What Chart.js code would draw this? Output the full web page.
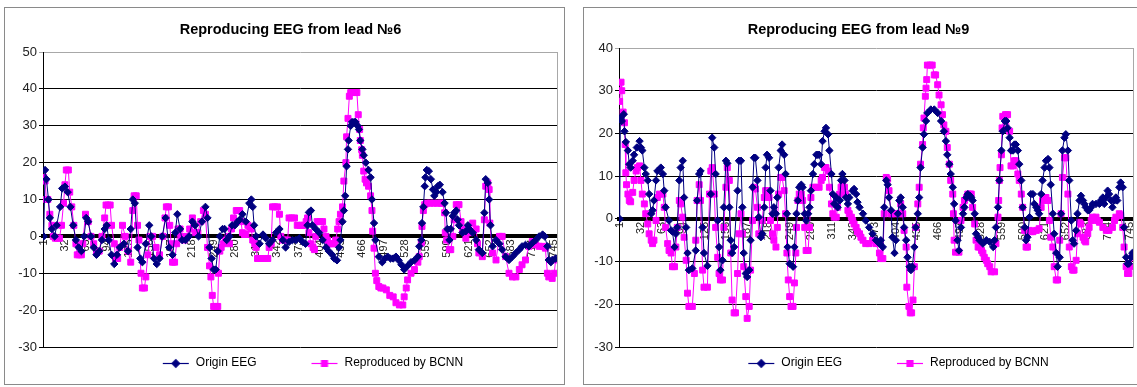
<!DOCTYPE html>
<html>
<head>
<meta charset="utf-8">
<script src="https://cdn.jsdelivr.net/npm/chart.js@4.4.1/dist/chart.umd.min.js"></script>
<style>
  html, body { margin: 0; padding: 0; background: #fff; overflow: hidden; width: 1137px; height: 387px; }
  .box { position: absolute; top: 7px; height: 378px; border: 1px solid #8a8a8a; box-sizing: border-box; background: #fff; }
  #box6 { left: 4px; width: 561px; }
  #box9 { left: 583px; width: 558px; }
  canvas { display: block; }
</style>
</head>
<body>
<div class="box" id="box6"><canvas id="lead6" width="559" height="376"></canvas></div>
<div class="box" id="box9"><canvas id="lead9" width="556" height="376"></canvas></div>
<script>
// Sample numbers printed along the category axis (every 31st sample)
const sampleTicks = [1, 32, 63, 94, 125, 156, 187, 218, 249, 280, 311, 342, 373, 404, 435, 466, 497, 528, 559, 590, 621, 652, 683, 714, 745];

// Lead 6: [sample, amplitude]
const lead6Origin = [
  [1,0],[3,18],[5,15.5],[8,10],[10,5],[13,2],[17,0],[20,3],[25,8],[28,13],[32,13.5],[36,12],[40,8],[44,3],[48,-1],[52,-3],[56,-4],[60,0],[63,5],[66,4],[70,0],[74,-3],[78,-5],[82,-4],[86,-1],[90,2],[93,3],[96,-1],[100,-5],[104,-7.5],[108,-5],[112,-3],[118,-2],[124,-4],[128,2],[131,10],[134,9],[138,-3],[142,-6],[145,-7],[150,-2],[155,3],[158,0],[162,-6],[166,-7.5],[170,-6],[174,0],[179,5],[184,-3],[189,-5],[193,1],[196,6],[200,2],[203,-1],[208,-1],[213,0],[218,4],[222,3],[227,0],[232,4],[237,8],[240,5],[243,-3],[246,-6],[249,-9],[252,-9],[255,-4],[258,0],[262,2],[265,2],[268,-1],[272,0],[276,3],[280,3],[284,4],[287,4.5],[291,6],[296,4],[301,9],[304,10],[306,8],[308,3],[311,0],[316,-2],[321,0.5],[325,-0.5],[330,-2],[335,-1],[340,1],[345,2],[350,-1],[354,-3],[359,-1.5],[364,-1],[369,-1],[374,-0.5],[379,-1.5],[383,-2],[386,3],[388,6.5],[391,7],[393,3],[398,2],[403,1],[408,-1],[413,-3],[417,-4],[422,-5],[425,-6],[429,-6.5],[432,-3],[434,-1],[437,4],[439,7],[441,11],[443,19],[445,23.6],[446,26],[449,30],[451,31],[454,31],[456,31],[459,30],[461,29],[463,26],[466,23.6],[468,22],[471,20],[475,18],[478,16],[480,10],[483,3.6],[485,-1],[490,-5.5],[495,-7],[499,-6],[503,-5.5],[507,-6],[511,-6],[515,-5.5],[519,-6.5],[523,-7.7],[527,-9],[532,-8],[537,-7],[542,-6.5],[547,-5.5],[549,-2.7],[552,-1],[553,3.6],[555,8],[557,13.6],[558,16],[560,18],[563,17.7],[566,15.5],[569,12.7],[571,11],[574,12],[576,13.6],[579,14],[583,12],[586,9],[588,6.4],[590,2],[593,-1],[595,2],[598,5.5],[600,6.4],[603,7],[605,4.5],[607,3],[612,1],[617,1.4],[620,3],[622,2],[627,1],[632,-1],[636,-3.6],[641,-4.5],[644,6.4],[646,15.5],[649,14.5],[651,10],[653,3],[656,-2.7],[661,-1],[666,-2],[670,-3.6],[675,-5.5],[680,-6.4],[685,-5.5],[690,-4.5],[695,-3.6],[699,-2.7],[704,-2.3],[709,-2.7],[714,-1.8],[719,-1],[724,0],[729,0.5],[732,0],[736,-2.7],[738,-6.4],[741,-7],[743,-6.4],[748,-6]
];
const lead6Reproduced = [
  [1,16],[3,15],[5,10],[7,10],[10,6],[13,3],[15,0],[18,-0.5],[21,-0.5],[24,-0.5],[27,3],[30,9],[32,14],[34,18],[37,18],[39,12],[42,8],[45,3],[48,-2],[50,-5],[53,-5],[56,-5],[58,-2],[62,6],[66,4],[70,0],[74,-2],[78,-4],[82,-4],[86,0],[90,5],[92,8.5],[95,8.5],[98,8.5],[100,3],[104,-2],[106,-6],[109,-6],[112,-3],[116,3],[120,0],[124,-4],[128,-7],[131,7],[133,11],[136,11],[138,3],[140,-1],[143,-10],[145,-14],[148,-14],[150,-11],[153,-5],[156,0],[160,0],[165,-3],[170,-5],[175,0],[178,5],[180,8],[183,8],[185,3],[187,-2],[189,-7],[192,-7],[195,-2],[197,2],[200,2],[202,0],[206,-1],[210,0],[214,2],[218,5],[222,1],[226,1],[230,4],[234,7],[237,6],[240,-3],[243,-8],[245,-11],[247,-16],[249,-19],[252,-19],[255,-19],[256,-10],[258,-4],[260,-3],[263,-2],[266,-1],[270,0],[272,-2],[275,2],[278,5],[282,7],[285,7],[287,7],[289,4],[291,1],[294,0.5],[296,0.5],[299,3],[302,2.5],[304,2],[306,-1],[309,-2],[311,-3],[313,-6],[318,-6],[323,-6],[328,-6],[330,-3],[333,-2],[335,8],[338,8],[342,8],[345,6],[347,0],[350,-1],[353,-1],[357,-1],[359,5],[363,5],[367,5],[371,3],[375,3],[378,3],[381,3],[384,4],[386,5],[388,1],[391,-2],[394,-3],[396,-3.6],[398,0],[400,4],[404,4],[408,4],[410,2],[413,0],[415,-1],[417,-2],[421,-2],[425,-2],[427,-1],[430,2],[432,4],[434,6],[437,8],[439,15],[442,20],[443,27],[445,32],[447,38],[449,39],[452,39],[455,39],[458,39],[460,33],[462,29],[463,26],[465,23.5],[466,22],[468,17.7],[470,15.5],[472,14.5],[475,13.6],[478,11],[480,7],[481,1.4],[483,-3.2],[485,-10],[487,-12],[490,-13.6],[493,-14],[496,-14],[501,-14.5],[506,-16],[511,-16.4],[515,-18],[520,-18.6],[525,-18.6],[527,-16.4],[530,-14],[532,-11.8],[537,-10],[542,-9],[547,-7],[549,-5.5],[552,-1.8],[553,2.7],[555,7],[557,8.6],[560,9],[565,9],[570,9],[575,9],[580,9],[583,9],[586,6.4],[587,1],[589,-1],[593,-3.6],[595,-3.6],[598,0],[600,4.5],[603,8.6],[607,8.6],[610,4],[612,2],[617,-0.5],[622,1],[627,3.6],[632,2],[634,-2],[636,-4.5],[641,-5.5],[644,4.5],[646,13.6],[649,14.5],[651,12.7],[652,3.6],[656,-4.5],[661,-6.4],[666,0],[670,0],[675,-5.5],[680,-10],[685,-11],[690,-11],[695,-9],[699,-7.7],[704,-6.4],[709,-2.7],[714,-1.4],[719,-2.3],[724,-2.7],[729,-2.7],[733,-3.2],[736,-10],[738,-11],[743,-11.4],[746,-10],[748,-6.4]
];

// Lead 9: [sample, amplitude]
const lead9Origin = [
  [1,0],[2,23.6],[4,22.9],[7,24.5],[8,20.5],[10,18],[13,16],[15,12.8],[17,12],[20,13.6],[22,15],[26,16.7],[30,18.2],[32,16.7],[34,16],[37,12],[39,10.5],[42,9],[44,5.8],[47,1.2],[49,2],[51,4.3],[54,9],[56,11.2],[61,12],[64,10.5],[66,6.6],[68,2.7],[73,-0.4],[76,-2.7],[78,-3],[81,-6.6],[83,-3.5],[85,-2],[88,9],[90,12],[93,13.6],[95,5],[98,-2],[100,-8],[102,-12],[107,-11.6],[112,-7.4],[114,4.3],[117,10.5],[119,11.2],[122,-2],[124,-8],[129,-11],[134,5.8],[136,19],[139,16.7],[141,10.5],[144,-0.4],[146,-6.6],[148,-12],[151,-9.7],[153,2.7],[156,13.6],[158,13],[161,2.7],[163,-5],[165,-8],[168,-6.6],[173,6.6],[175,13.6],[178,13.6],[180,2.7],[182,-8],[185,-12.8],[187,-13.6],[190,-12],[192,-5],[195,7.4],[197,14.3],[199,14.3],[202,9],[204,0.4],[207,-4.3],[209,-3.5],[212,2.7],[214,12],[216,15],[219,14.3],[221,6.6],[224,1.2],[226,2.7],[229,1.2],[231,5],[233,12],[236,16],[238,17.4],[241,15],[243,10.5],[245,1.2],[246,-6.6],[249,-10.5],[254,-11.2],[256,-6.6],[259,1.2],[261,4.3],[263,7.4],[266,8],[268,7.4],[271,1.2],[273,-0.4],[276,1.2],[278,2.7],[280,6.6],[283,10.5],[285,12.8],[288,15],[290,15],[292,15],[295,12.8],[297,18.2],[300,20.5],[302,21.3],[305,19.8],[307,16],[310,10.5],[312,5.8],[314,3.5],[317,5],[319,2.7],[322,4.3],[324,9],[326,10.5],[329,9],[331,5],[334,3.5],[336,5],[341,6.6],[343,7],[346,5.8],[348,3.9],[351,2.7],[356,1.2],[360,-0.4],[365,-2],[370,-3.5],[375,-5],[380,-5.8],[382,-5],[385,-6.6],[387,2.7],[390,9],[392,8],[394,5],[397,2],[399,-4.3],[402,-8],[404,-5],[407,1.2],[409,4.3],[411,5],[414,2.7],[416,-2],[419,-5],[421,-9],[424,-11.2],[426,-12],[428,-11.2],[431,-6.6],[433,-2],[436,1.2],[438,5],[440,12],[443,16.7],[445,19.8],[448,22.9],[450,24.8],[455,25.6],[460,25.6],[465,24.8],[470,22.9],[474,20.5],[477,18.2],[479,15],[482,12.8],[484,10.5],[487,7.4],[489,3.5],[491,-0.4],[494,-5],[496,-7.4],[499,-2],[502,1.2],[504,2.7],[507,5],[509,5.8],[512,5.4],[514,5],[516,4.3],[519,1.2],[521,-3.5],[524,-4.3],[526,-5],[531,-5.8],[536,-5],[541,-5.4],[546,-6.6],[548,-5],[550,-2],[553,2.7],[555,9],[558,16],[560,20.5],[563,22.9],[565,22.9],[567,21.3],[570,19],[572,16],[575,16],[577,17.4],[579,17.4],[582,16],[584,12.8],[587,9],[589,2.7],[592,-2],[594,-5],[596,-4.3],[599,0.4],[601,5.8],[604,5.8],[606,3.5],[609,2.7],[611,2],[613,1.2],[616,5.8],[618,9],[621,12],[623,13.6],[626,14],[628,12],[630,8],[633,1.2],[635,-3.5],[638,-8],[640,-11.2],[643,-9],[645,1.2],[647,16],[650,19],[652,19.8],[655,16],[657,9],[660,-0.4],[662,-5],[664,-5.8],[667,-2.7],[669,1.2],[672,4.3],[674,5.4],[677,4.3],[679,3.5],[681,2.7],[684,2],[686,2],[689,2.7],[691,3.5],[696,3.5],[701,3.5],[703,4.3],[706,5],[708,3.5],[711,5],[713,6.6],[715,5.8],[718,4.3],[720,2.7],[723,4.3],[725,5],[727,4.3],[730,7.4],[732,8.5],[735,7.4],[737,-2],[740,-9],[742,-10.5],[744,-10.5],[747,-9],[749,-8]
];
const lead9Reproduced = [
  [1,27.5],[3,32],[4,30],[6,25],[8,22.5],[9,17.4],[10,10.8],[11,8],[13,5.8],[15,4.3],[17,4],[20,6.2],[22,9],[25,11.2],[27,12],[30,12.4],[32,9],[34,5.8],[37,3.5],[39,1.2],[42,-1.2],[44,-3.5],[47,-5],[49,-5.8],[51,-5],[54,-0.4],[56,5],[59,5.8],[64,5.8],[66,2.7],[68,-2],[71,-5.8],[73,-7.4],[76,-8],[78,-11.2],[81,-11.2],[83,-6.6],[85,-2],[88,4.3],[90,3.5],[93,0.4],[95,-4.3],[98,-9.7],[100,-17.4],[102,-20.5],[107,-20.5],[110,-12.8],[112,-5],[114,4.3],[117,8],[119,4.3],[122,-12],[124,-16],[129,-16],[132,5.8],[134,11.2],[136,12],[139,5.8],[141,-2],[144,-9],[146,-12.8],[148,-14.3],[151,-14.3],[153,-2],[156,7.4],[158,12],[161,9],[163,-8],[165,-19],[168,-22],[170,-22],[173,-12.8],[175,-3.5],[178,1.2],[180,-3.5],[182,-11.2],[185,-18.2],[187,-23.3],[190,-20.5],[192,-12],[195,-0.4],[197,7.4],[199,7],[202,2.7],[204,-3.5],[207,-3.9],[209,-0.4],[212,5],[214,6.6],[216,6.6],[219,5],[221,-0.4],[224,-3.5],[226,-5],[229,-6.6],[231,-2],[233,5.8],[236,9.7],[238,9.7],[241,6.6],[243,1.2],[245,-8],[247,-14.3],[249,-18.2],[251,-20.5],[254,-20.5],[256,-15],[258,-8],[259,-2],[261,4.3],[263,5.8],[266,5.8],[268,4.3],[271,-2],[273,-7.4],[276,-7.4],[278,-2],[280,5],[283,7.4],[288,7.4],[292,7.4],[295,9],[297,9.7],[300,12],[302,12],[305,11.2],[307,7.4],[310,3.5],[312,1.2],[314,0.4],[317,0.4],[319,2.7],[322,5.8],[324,7.4],[326,8],[329,7.4],[331,5.8],[334,2],[336,1.2],[339,0.4],[341,-0.4],[343,-1.2],[346,-2],[348,-3],[351,-3.5],[353,-4.3],[356,-5],[360,-5.8],[365,-5.8],[370,-5],[375,-5.8],[380,-8],[382,-9.3],[385,-9.3],[387,1.2],[390,9.7],[392,9.3],[394,6.6],[397,1.2],[399,1.2],[404,1.2],[409,1.2],[411,3.5],[414,1.2],[416,-2.7],[419,-6.6],[420,-16],[423,-20.5],[425,-22],[427,-22],[429,-19],[431,-11.2],[433,-2],[436,3.5],[438,7.4],[440,12.8],[443,17.4],[444,21.3],[445,23.6],[447,28.7],[448,30.6],[449,32.6],[450,36],[454,36],[457,36],[460,33.7],[462,33.7],[465,31.4],[467,29],[470,26.7],[472,24.4],[474,22],[477,20.5],[479,16.7],[482,12.8],[484,9],[487,5.8],[488,1.2],[489,-5],[491,-7.8],[496,-7.8],[499,-0.4],[502,2.7],[504,4.3],[507,5],[509,5.8],[512,5.8],[514,5.8],[516,2.7],[519,-1.2],[521,-5],[524,-6.6],[526,-6.6],[529,-7.4],[531,-8],[533,-9],[536,-9.7],[538,-10.5],[541,-11.2],[543,-12.4],[548,-12.4],[550,-5.8],[553,0.4],[554,4.3],[555,9],[556,12],[558,15],[559,21.3],[560,24],[564,24.4],[567,24.4],[570,20.5],[572,12.4],[575,12.4],[577,13.6],[579,13.6],[582,10.5],[584,9],[587,5.8],[589,2.7],[592,-2.7],[594,-6.6],[596,-6.6],[599,-2.7],[601,-3],[604,-3],[609,-2.7],[613,-2.3],[616,2.7],[618,4.3],[621,5],[623,5],[626,4.3],[628,-0.4],[630,-4.3],[633,-6.6],[635,-11.2],[638,-14.3],[640,-14.3],[643,-5],[645,1.2],[647,9.7],[650,14.3],[652,14.3],[655,5.8],[657,-6.6],[660,-11.2],[662,-12],[664,-12],[667,-9.7],[669,-3.5],[672,-0.8],[674,-1.2],[677,-4.3],[679,-5],[681,-5.4],[684,-3.5],[686,-2],[689,-0.4],[691,0.4],[696,0.4],[698,-0.4],[701,-0.8],[706,-2],[711,-2.7],[715,-2.7],[720,-2],[723,-0.4],[725,0.4],[730,1.2],[732,0.8],[735,-2],[737,-6.6],[740,-11.2],[742,-12.8],[744,-12.8],[747,-11.2],[749,-9]
];

const NAVY = '#000080';
const MAGENTA = '#FF00FF';
const FONT = '"Liberation Sans", Arial, sans-serif';

// Legend swatch: a short line with the series marker in its middle
function legendSwatch(color, style, radius) {
  const c = document.createElement('canvas');
  c.width = 72; c.height = 12;
  const g = c.getContext('2d');
  g.strokeStyle = color;
  g.fillStyle = color;
  g.lineWidth = 1.2;
  g.beginPath(); g.moveTo(45, 6.5); g.lineTo(71, 6.5); g.stroke();
  Chart.helpers.drawPoint(g, { pointStyle: style, radius: radius, borderWidth: 1, rotation: 0 }, 58, 6.5);
  return c;
}

function toPoints(series) {
  return series.map(([x, y]) => ({ x, y }));
}

// frame: plot-frame settings for one panel (paddings, axis box widths, title padding, legend span)
function buildChart(id, titleText, origin, reproduced, yMin, yMax, frame) {
  const swatches = [legendSwatch(NAVY, 'rectRot', 3.8), legendSwatch(MAGENTA, 'rect', 4.2)];
  return new Chart(document.getElementById(id), {
    type: 'line',
    data: {
      datasets: [
        {
          label: 'Origin EEG',
          data: toPoints(origin),
          borderColor: NAVY, backgroundColor: NAVY, borderWidth: 1,
          pointStyle: 'rectRot', pointRadius: 3.7, pointBorderWidth: 1,
          pointBorderColor: NAVY, pointBackgroundColor: NAVY, tension: 0
        },
        {
          label: 'Reproduced by BCNN',
          data: toPoints(reproduced),
          borderColor: MAGENTA, backgroundColor: MAGENTA, borderWidth: 1,
          pointStyle: 'rect', pointRadius: 4.2, pointBorderWidth: 1,
          pointBorderColor: MAGENTA, pointBackgroundColor: MAGENTA, tension: 0
        }
      ]
    },
    options: {
      responsive: false,
      animation: false,
      events: [],
      layout: { padding: { left: frame.padLeft, right: frame.padRight, top: 0, bottom: 5 } },
      scales: {
        x: {
          type: 'linear', min: 0, max: 750,
          position: { y: 0 },
          afterBuildTicks: s => { s.ticks = sampleTicks.map(v => ({ value: v })); },
          afterFit: s => { s.paddingLeft = 0; s.paddingRight = 0; },
          grid: { display: false, drawTicks: false },
          border: { display: true, color: '#000', width: 4 },
          ticks: {
            autoSkip: false, minRotation: 90, maxRotation: 90, padding: 3,
            color: '#222', font: { family: FONT, size: 11 }
          }
        },
        y: {
          type: 'linear', min: yMin, max: yMax, position: 'left',
          afterFit: s => { s.width = frame.axisWidth; },
          ticks: { stepSize: 10, padding: 2, color: '#222', font: { family: FONT, size: 13 } },
          grid: {
            color: c => (c.tick && c.tick.value === yMax) ? '#a8a8a8' : '#000',
            lineWidth: 1, tickLength: 4, drawTicks: true
          },
          border: { color: '#000', width: 1 }
        },
        edge: {
          type: 'linear', position: 'right', min: 0, max: 1,
          afterFit: s => { s.width = frame.edgeWidth; },
          ticks: { display: false },
          grid: { display: false, drawOnChartArea: false, drawTicks: false },
          border: { display: true, color: '#a8a8a8', width: 1 }
        }
      },
      plugins: {
        title: {
          display: true, text: titleText, color: '#000',
          font: { family: FONT, size: 14.5, weight: 'bold' },
          padding: { top: frame.titleTop, bottom: frame.titleBottom }
        },
        legend: {
          position: 'bottom',
          fullSize: frame.legendFull,
          labels: {
            usePointStyle: true, pointStyleWidth: 72, padding: 10,
            color: '#000', font: { family: FONT, size: 12 },
            generateLabels: chart => {
              const items = Chart.defaults.plugins.legend.labels.generateLabels(chart);
              items.forEach((it, i) => { it.pointStyle = swatches[i]; });
              return items;
            }
          }
        },
        tooltip: { enabled: false }
      }
    }
  });
}

buildChart('lead6', 'Reproducing EEG from lead №6', lead6Origin, lead6Reproduced, -30, 50,
  { padLeft: 12, padRight: 0, axisWidth: 26, edgeWidth: 7, titleTop: 13.3, titleBottom: 13.3, legendFull: true });
buildChart('lead9', 'Reproducing EEG from lead №9', lead9Origin, lead9Reproduced, -30, 40,
  { padLeft: 0, padRight: 7, axisWidth: 35, edgeWidth: 0, titleTop: 13.3, titleBottom: 9.3, legendFull: false });
</script>
</body>
</html>
